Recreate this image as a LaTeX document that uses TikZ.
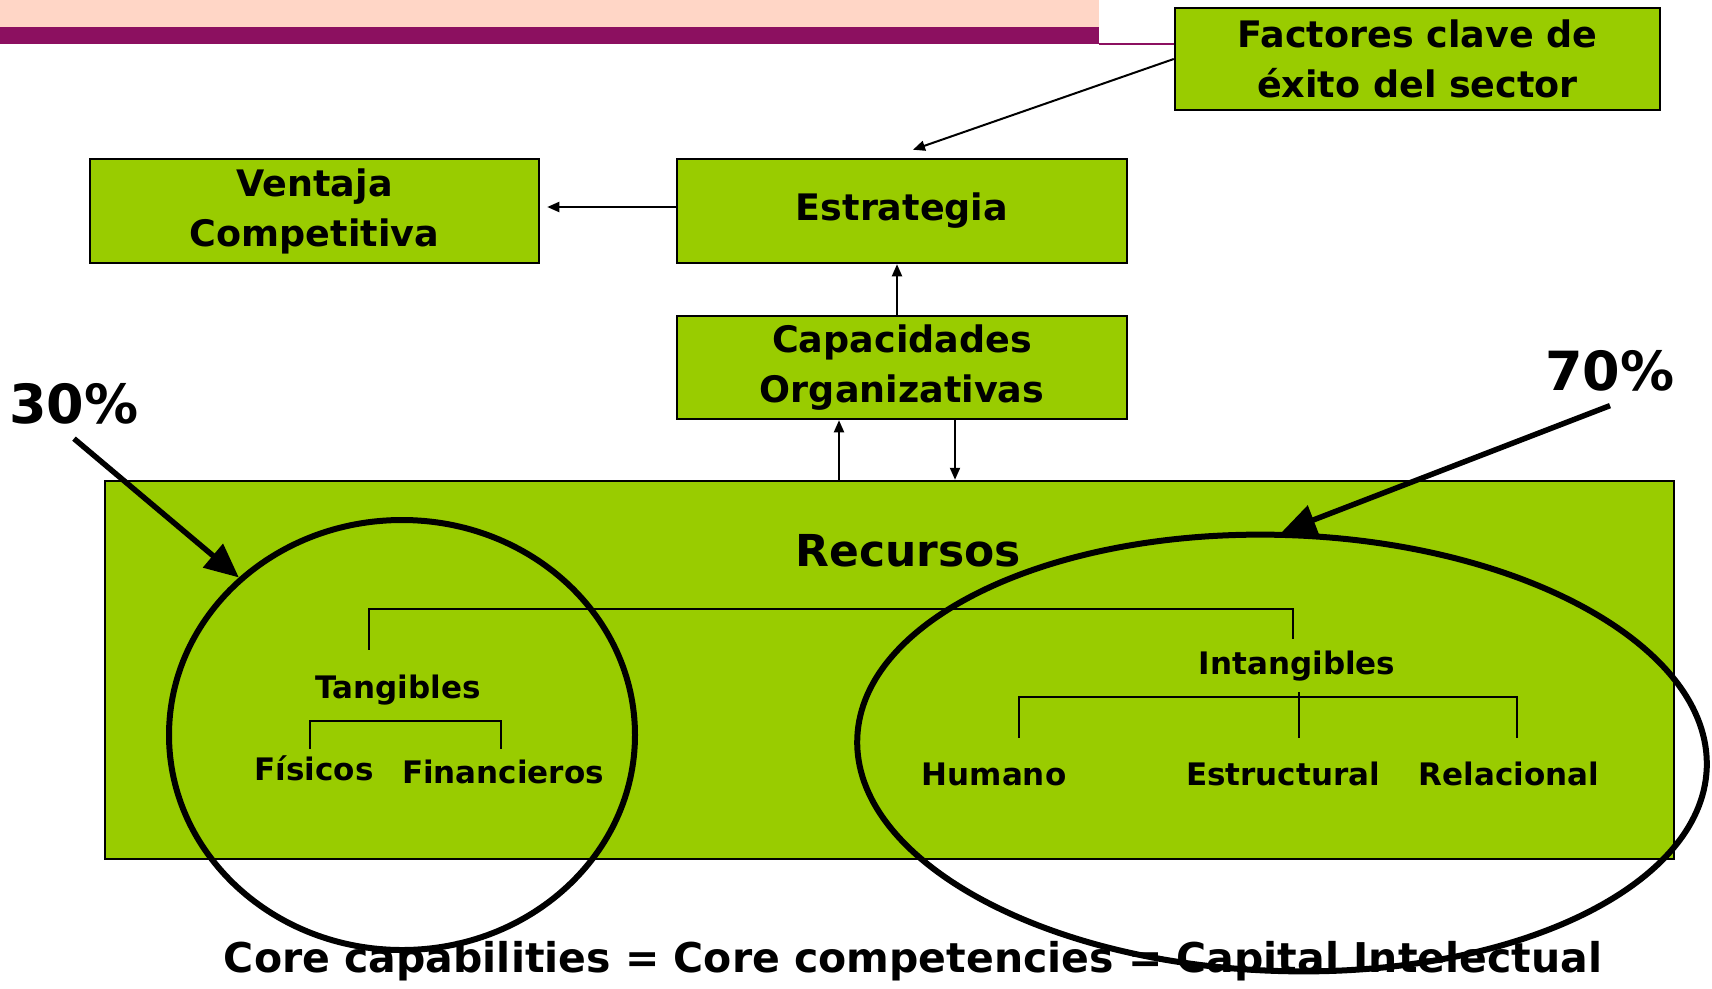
\documentclass[tikz,border=0pt]{standalone}
\usepackage{fontspec}
\setmainfont{DejaVu Sans}
\usetikzlibrary{arrows, arrows.meta, positioning, shapes.geometric}

\definecolor{leafgreen}{RGB}{153,204,0}
\definecolor{bandpurple}{RGB}{140,16,96}
\definecolor{bandpink}{RGB}{255,214,198}

\begin{document}
\begin{tikzpicture}[x=1pt,y=-1pt]
		\tikzstyle{Box} = [rectangle, draw=black, line width=2.5pt, fill=leafgreen, text centered, align=center, inner sep=0pt, font=\bfseries\fontsize{36.5}{50}\selectfont]
		\tikzstyle{Leaf} = [rectangle, inner sep=0pt, minimum height=62pt, font=\bfseries\fontsize{31}{36}\selectfont]
		\tikzstyle{Ring} = [ellipse, draw=black, line width=6pt, inner sep=0pt]
		\tikzstyle{Share} = [inner sep=0pt, font=\bfseries\fontsize{54}{60}\selectfont]
		\tikzstyle{arrow} = [line width=2pt,->,>={Triangle[length=12pt,width=10pt]}]
		\tikzstyle{bigarrow} = [line width=5.5pt,->,>={Triangle[length=34pt,width=30pt]}]
		\tikzstyle{tree} = [line width=2pt]
		
		\useasboundingbox (0,0) rectangle (1712,988);
		\fill[white] (0,0) rectangle (1712,988);
		
		% band at the top
		\fill[bandpink] (0,0) rectangle (1099,27);
		\fill[bandpurple] (0,27) rectangle (1099,44);
		
		\node (fact) [Box, minimum width=485pt, minimum height=102pt] at (1417.5,59) {Factores clave de\\ éxito del sector};
		\node (estr) [Box, minimum width=450pt, minimum height=104pt] at (902,211) {Estrategia};
		\node (vent) [Box, minimum width=449pt, minimum height=104pt] at (314.5,211) {Ventaja\\Competitiva};
		\node (capa) [Box, minimum width=450pt, minimum height=103pt] at (902,367.5) {Capacidades\\Organizativas};
		\node (recbox) [Box, minimum width=1569pt, minimum height=378pt] at (889.5,670) {};
		\node (recu) [inner sep=0pt, font=\bfseries\fontsize{44}{50}\selectfont] at (908,551) {Recursos};
		
		\draw[bandpurple, line width=1.5pt] (1099,44) -- (fact.west |- 0,44);
		
		\draw[arrow] (fact.west) -- ([xshift=11pt,yshift=8pt]estr.north);
		\draw[arrow, shorten >=7pt] ([yshift=4pt]estr.west) -- ([yshift=4pt]vent.east);
		\draw[arrow] ([xshift=-5pt]capa.north) -- ([xshift=-5pt]estr.south);
		\draw[arrow] ([xshift=-63pt]capa.south |- recbox.north) -- ([xshift=-63pt]capa.south);
		\draw[arrow] ([xshift=53pt]capa.south) -- ([xshift=53pt]capa.south |- recbox.north);
		
		% resource tree
		\node (tang) [Leaf] at (398,690) {Tangibles};
		\node (fis) [Leaf] at (314,768) {Físicos};
		\node (fin) [Leaf] at (503,772) {Financieros};
		\node (intang) [Leaf] at (1297,666) {Intangibles};
		\node (hum) [Leaf] at (994,774) {Humano};
		\node (est) [Leaf] at (1283,774) {Estructural};
		\node (rel) [Leaf] at (1509,774) {Relacional};
		
		\draw[tree] ([xshift=-29pt,yshift=9pt]tang.north) |- ++(0,-41) -| ([xshift=-4pt,yshift=-4pt]intang.north);
		\draw[tree] ([xshift=-4pt,yshift=-12pt]fis.north) |- (tang.south) -| ([xshift=-2pt,yshift=-8pt]fin.north);
		\draw[tree] ([xshift=25pt,yshift=5pt]hum.north) |- (intang.south) -| ([xshift=8pt,yshift=5pt]rel.north);
		\draw[tree] ([xshift=16pt,yshift=5pt]est.north) -- ([xshift=16pt,yshift=5pt]est.north |- intang.south);
		
		\node (core) [inner sep=0pt, font=\bfseries\fontsize{41}{46}\selectfont] at (913,961) {Core capabilities = Core competencies = Capital Intelectual};
		
		\node (lring) [Ring, minimum width=466pt, minimum height=430pt] at (402,735) {};
		\node (rring) [Ring, minimum width=850pt, minimum height=436pt, rotate=-2] at (1282,753) {};
		
		\node (p30) [Share] at (74,404) {30\%};
		\node (p70) [Share] at (1610,371) {70\%};
		\draw[bigarrow] ([yshift=-14pt]p30.south) -- (lring.136);
		\draw[bigarrow] ([yshift=-14pt]p70.south) -- ([xshift=-8pt]rring.north);
		\end{tikzpicture}
\end{document}
